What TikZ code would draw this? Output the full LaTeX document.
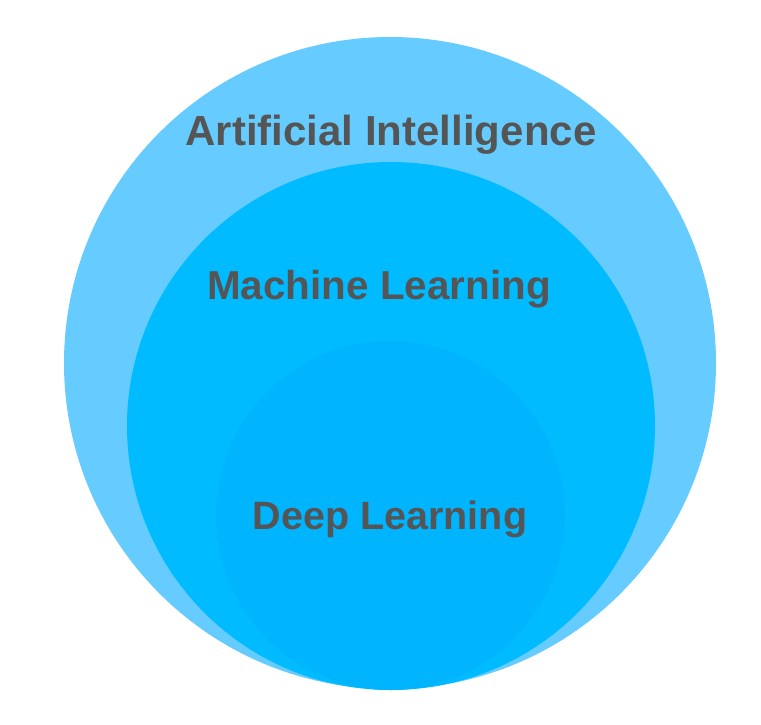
\documentclass[tikz,border=0pt]{standalone}
\usepackage{fontspec}
\setmainfont{Liberation Sans}
\definecolor{aic}{HTML}{66CCFF}
\definecolor{mlc}{HTML}{00BBFF}
\definecolor{dlc}{HTML}{00B4FE}
\definecolor{txt}{HTML}{555555}
\begin{document}
\begin{tikzpicture}[x=1pt,y=-1pt,
  lbl/.style={text=txt,font=\fontsize{40}{44}\selectfont\bfseries,anchor=base,inner sep=0pt}]
\useasboundingbox (0,0) rectangle (761,724);
\fill[aic] (390,363) circle (326);
\fill[mlc] (391,426) circle (264);
\fill[dlc] (390.5,515.5) circle (174.5);
\node[lbl,font=\fontsize{42}{46}\selectfont\bfseries] (ai) at (391,145) {Artificial Intelligence};
\node[lbl,font=\fontsize{40.4}{44}\selectfont\bfseries] (ml) at (379,299) {Machine Learning};
\node[lbl,font=\fontsize{39.5}{44}\selectfont\bfseries] (dl) at (390,529) {Deep Learning};
\end{tikzpicture}
\end{document}
